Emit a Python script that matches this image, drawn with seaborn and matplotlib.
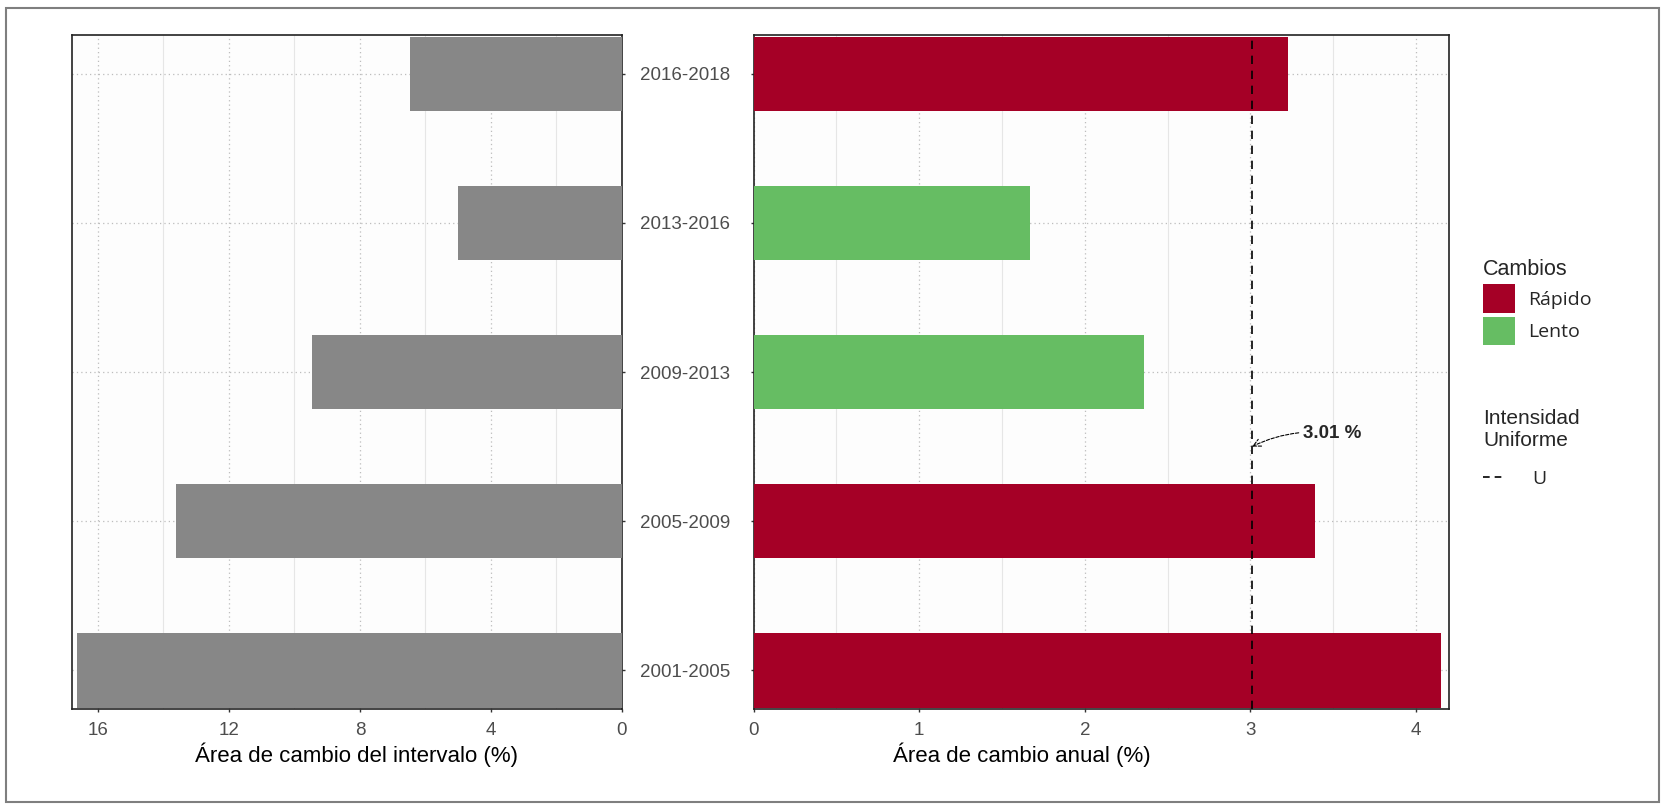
import matplotlib
matplotlib.use("Agg")
from matplotlib import pyplot as plt
from matplotlib.patches import Patch, Rectangle
from matplotlib.lines import Line2D
from matplotlib.ticker import MultipleLocator
import pandas as pd
import seaborn as sns

# data
intervalos = ["2016-2018", "2013-2016", "2009-2013", "2005-2009", "2001-2005"]
area_intervalo = [6.46, 5.01, 9.47, 13.61, 16.63]
area_anual = [3.23, 1.67, 2.36, 3.39, 4.15]
cambios = ["Rápido", "Lento", "Lento", "Rápido", "Rápido"]
uniforme = 3.01

colores = {"Rápido": "#A50026", "Lento": "#66BD63"}

df = pd.DataFrame({"Intervalo": intervalos, "Intervalo_pct": area_intervalo,
                   "Anual_pct": area_anual, "Cambios": cambios})

sns.set_style("white")
sans = ["Liberation Sans", "DejaVu Sans"]
plt.rcParams["font.family"] = sans

fig = plt.figure(figsize=(16.62, 8.07), dpi=100)
fig.patch.set_facecolor("white")
fig.add_artist(Rectangle((0.0036, 0.0062), 0.9946, 0.9839, transform=fig.transFigure,
                         fill=False, edgecolor="#7f7f7f", lw=1.5))

ax1 = fig.add_axes([0.0433, 0.1214, 0.3309, 0.8352])
ax2 = fig.add_axes([0.4534, 0.1214, 0.4185, 0.8352])

# left panel: interval change area, mirrored
sns.barplot(data=df, x="Intervalo_pct", y="Intervalo", order=intervalos, color="#878787",
            width=0.5, saturation=1, linewidth=0, ax=ax1, zorder=3)
ax1.set_xlim(16.79, 0)
ax1.set_ylim(4.26, -0.26)
ax1.xaxis.set_major_locator(MultipleLocator(4))
ax1.xaxis.set_minor_locator(MultipleLocator(2))
ax1.yaxis.tick_right()
ax1.set_ylabel("")
ax1.set_xlabel("Área de cambio del intervalo (%)", fontsize=16, color="black",
               labelpad=2, x=0.517)
for lab in ax1.get_yticklabels():
    lab.set_horizontalalignment("center")
ax1.tick_params(axis="y", which="major", right=True, length=2.5, width=1, pad=43,
                labelsize=13.5, labelcolor="#4d4d4d", color="#333333")

# right panel: annual change area, coloured by speed
sns.barplot(data=df, x="Anual_pct", y="Intervalo", order=intervalos, hue="Cambios",
            palette=colores, dodge=False, width=0.5, saturation=1, linewidth=0,
            ax=ax2, zorder=3, legend=False)
ax2.set_xlim(0, 4.2)
ax2.set_ylim(4.26, -0.26)
ax2.xaxis.set_major_locator(MultipleLocator(1))
ax2.xaxis.set_minor_locator(MultipleLocator(0.5))
ax2.set_ylabel("")
ax2.tick_params(axis="y", left=True, labelleft=False, length=2.5, width=1, color="#333333")
ax2.set_xlabel("Área de cambio anual (%)", fontsize=16, color="black", labelpad=2, x=0.386)
ax2.axvline(uniforme, color="black", ls=(0, (5, 4)), lw=1.2, zorder=4)
ax2.annotate(f"{uniforme:.2f} %", xy=(uniforme, 2.5), xytext=(3.32, 2.41),
             fontsize=13.5, fontweight="bold", va="center", ha="left",
             arrowprops=dict(arrowstyle="->", color="black", lw=0.8, ls=(0, (3, 1.5)),
                             connectionstyle="arc3,rad=0.15", shrinkA=1, shrinkB=0))

for ax in (ax1, ax2):
    ax.set_facecolor("#fdfdfd")
    ax.grid(which="major", axis="both", color="#bdbdbd", ls=(0, (1, 2.5)), lw=0.9, zorder=0)
    ax.grid(which="minor", axis="x", color="#e6e6e6", ls="-", lw=0.8, zorder=0)
    ax.set_axisbelow(True)
    ax.tick_params(axis="x", which="major", bottom=True, length=2.5, width=1, pad=7,
                   labelsize=13.5, labelcolor="#4d4d4d", color="#333333")
    ax.tick_params(axis="x", which="minor", bottom=False)
    for s in ax.spines.values():
        s.set_visible(True)
        s.set_color("#222222")
        s.set_linewidth(1.2)

# legends
lab_font = {"family": ["Open Sans", "DejaVu Sans"], "size": 14}
h_cambios = [Patch(facecolor=colores[k], edgecolor="none", label=k) for k in ["Rápido", "Lento"]]
leg1 = fig.legend(handles=h_cambios, title="Cambios", loc="upper left",
                  bbox_to_anchor=(0.8923, 0.679), frameon=False, borderpad=0,
                  borderaxespad=0, handlelength=1.65, handleheight=1.9,
                  handletextpad=0.67, labelspacing=0.2, prop=lab_font,
                  title_fontproperties={"family": sans, "size": 15.5})
leg1._legend_box.align = "left"
h_u = [Line2D([0], [0], color="black", ls=(0, (4, 3)), lw=1.2, label="U")]
leg2 = fig.legend(handles=h_u, title="Intensidad\nUniforme", loc="upper left",
                  bbox_to_anchor=(0.8923, 0.493), frameon=False, borderpad=0,
                  borderaxespad=0, handlelength=1.13, handletextpad=1.4,
                  labelspacing=0.6, prop=lab_font,
                  title_fontproperties={"family": sans, "size": 15})
leg2._legend_box.align = "left"
leg2._legend_box.sep = 14

fig.savefig("out.png", dpi=100, facecolor="white")
